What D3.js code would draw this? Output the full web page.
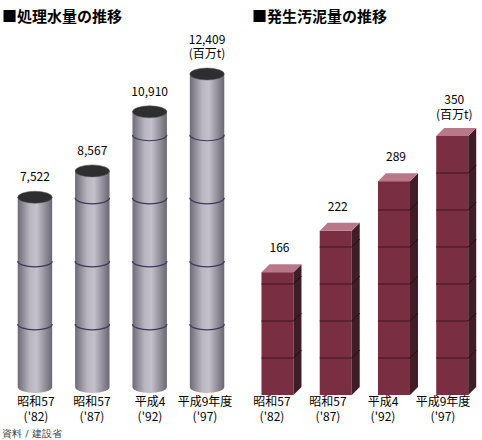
<!DOCTYPE html>
<html><head><meta charset="utf-8">
<script src="https://cdn.jsdelivr.net/npm/d3@7"></script>
<style>body{margin:0;background:#fff}</style>
</head><body><div id="chart"></div>
<script>
var categories = ['昭和57', '昭和57', '平成4', '平成9年度'];
var years = ["('82)", "('87)", "('92)", "('97)"];
var waterValues = [7522, 8567, 10910, 12409];
var sludgeValues = [166, 222, 289, 350];
var waterBands = [2500, 5000, 7500, 10000];
var sludgeBands = [50, 100, 150, 200, 250, 300];

var width = 482, height = 440;
var font = '"Noto Sans CJK JP", sans-serif';
var svg = d3.select('#chart').append('svg').attr('width', width).attr('height', height);

var defs = svg.append('defs');
var g1 = defs.append('linearGradient').attr('id', 'cyl');
[['0%', '#6e6a76'], ['35%', '#b8b4c0'], ['55%', '#c4c0cc'], ['100%', '#6a6672']].forEach(function(s) {
    g1.append('stop').attr('offset', s[0]).attr('stop-color', s[1]);
});

// left: cylinders
var x1 = d3.scaleBand().domain(d3.range(4)).range([12, 230]).paddingInner(0.4).paddingOuter(0.1);
var y1 = d3.scaleLinear().domain([0, 12409]).range([387, 74]);
var rx = x1.bandwidth() / 2, ry = 6;
var left = svg.append('g');
waterValues.forEach(function(v, i) {
    var cx = x1(i) + rx, top = y1(v), bot = y1(0);
    left.append('path')
        .attr('d', 'M' + (cx - rx) + ',' + top + 'L' + (cx - rx) + ',' + bot +
            'A' + rx + ',' + ry + ' 0 0 0 ' + (cx + rx) + ',' + bot +
            'L' + (cx + rx) + ',' + top + 'Z')
        .attr('fill', 'url(#cyl)');
    waterBands.filter(function(b) { return b < v - 300; }).forEach(function(b) {
        left.append('path')
            .attr('d', 'M' + (cx - rx) + ',' + y1(b) + 'A' + rx + ',' + ry + ' 0 0 0 ' + (cx + rx) + ',' + y1(b))
            .attr('fill', 'none').attr('stroke', '#3a3a5a').attr('stroke-width', 1.2);
    });
    left.append('ellipse').attr('cx', cx).attr('cy', top).attr('rx', rx).attr('ry', ry)
        .attr('fill', '#2e2e30').attr('stroke', '#555').attr('stroke-width', 0.5);
    left.append('text').attr('x', cx).attr('y', top - (i === 3 ? 30 : 16)).attr('text-anchor', 'middle')
        .attr('font-family', font).attr('font-size', 12).text(d3.format(',')(v));
});
left.append('text').attr('x', x1(3) + rx).attr('y', y1(12409) - 16)
    .attr('text-anchor', 'middle').attr('font-family', font).attr('font-size', 12).text('(百万t)');

// right: boxes
var x2 = d3.scaleBand().domain(d3.range(4)).range([244, 470]).paddingInner(0.72).paddingOuter(0.3);
var y2 = d3.scaleLinear().domain([0, 350]).range([395, 136]);
var dep = 8;
var right = svg.append('g');
sludgeValues.forEach(function(v, i) {
    var x = x2(i), w = 32, top = y2(v), bot = y2(0);
    right.append('rect').attr('x', x).attr('y', top).attr('width', w).attr('height', bot - top).attr('fill', '#7a2e42');
    right.append('path').attr('d', 'M' + (x + w) + ',' + top + 'l' + dep + ',' + (-dep) + 'L' + (x + w + dep) + ',' + (bot - dep) + 'L' + (x + w) + ',' + bot + 'Z')
        .attr('fill', '#3f1c26');
    right.append('path').attr('d', 'M' + x + ',' + top + 'l' + dep + ',' + (-dep) + 'h' + w + 'l' + (-dep) + ',' + dep + 'Z')
        .attr('fill', '#b9788a');
    sludgeBands.filter(function(b) { return b < v - 5; }).forEach(function(b) {
        right.append('line').attr('x1', x).attr('x2', x + w).attr('y1', y2(b)).attr('y2', y2(b))
            .attr('stroke', '#3a1420').attr('stroke-width', 1);
        right.append('line').attr('x1', x + w).attr('x2', x + w + dep).attr('y1', y2(b)).attr('y2', y2(b) - dep)
            .attr('stroke', '#2a0e16').attr('stroke-width', 1);
    });
    right.append('text').attr('x', x + w / 2 + 2).attr('y', top - (i === 3 ? 32 : 20)).attr('text-anchor', 'middle')
        .attr('font-family', font).attr('font-size', 12).text(v);
});
right.append('text').attr('x', x2(3) + 18).attr('y', y2(350) - 17).attr('text-anchor', 'middle')
    .attr('font-family', font).attr('font-size', 12).text('(百万t)');

// category labels
function catLabels(xs) {
    categories.forEach(function(c, i) {
        svg.append('text').attr('x', xs[i]).attr('y', 406).attr('text-anchor', 'middle')
            .attr('font-family', font).attr('font-size', 12).text(c);
        svg.append('text').attr('x', xs[i]).attr('y', 421).attr('text-anchor', 'middle')
            .attr('font-family', font).attr('font-size', 12).text(years[i]);
    });
}
catLabels([36, 92, 150, 205]);
catLabels([272, 328, 383, 443]);

svg.append('text').attr('x', 2).attr('y', 22).attr('font-family', font).attr('font-size', 15)
    .attr('font-weight', 'bold').text('■処理水量の推移');
svg.append('text').attr('x', 252).attr('y', 22).attr('font-family', font).attr('font-size', 15)
    .attr('font-weight', 'bold').text('■発生汚泥量の推移');
svg.append('text').attr('x', 2).attr('y', 437).attr('font-family', '"DejaVu Serif", serif').attr('font-size', 10)
    .attr('fill', '#444').text('資料 / 建設省');
</script>
</body></html>
